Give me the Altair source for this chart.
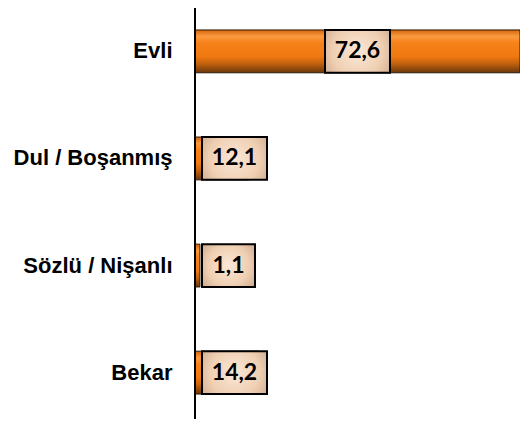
import altair as alt
import pandas as pd

categories = ["Evli", "Dul / Boşanmış", "Sözlü / Nişanlı", "Bekar"]
values = [72.6, 12.1, 1.1, 14.2]
labels = ["72,6", "12,1", "1,1", "14,2"]

PLOT_W = 325
X_MAX = 72.6
ppu = PLOT_W / X_MAX  # pixels per unit

rows = []
for c, v, lab in zip(categories, values, labels):
    box_px = 17 + 12 * len(lab)
    half = box_px / 2 / ppu
    if v * ppu / 2 > box_px / 2 + 8:
        center = v / 2
    else:
        center = (7 + box_px / 2) / ppu
    rows.append({"category": c, "value": v, "label": lab,
                 "box_l": center - half, "box_r": center + half, "lab_x": center})
df = pd.DataFrame(rows)

y_enc = alt.Y("category:N", sort=categories, title=None,
              scale=alt.Scale(paddingInner=0.6, paddingOuter=0.205),
              axis=alt.Axis(domain=False, ticks=False, grid=False, labelPadding=23,
                            labelFont="Liberation Sans", labelFontWeight="bold",
                            labelFontSize=22, labelColor="black", labelAlign="right"))
x_scale = alt.Scale(domain=[0, X_MAX], nice=False, zero=True)

bar_grad = alt.Gradient(
    gradient="linear", x1=0, x2=0, y1=0, y2=1,
    stops=[alt.GradientStop(offset=0.0, color="#d4640a"),
           alt.GradientStop(offset=0.15, color="#fa9a40"),
           alt.GradientStop(offset=0.3, color="#f7821a"),
           alt.GradientStop(offset=0.62, color="#f07810"),
           alt.GradientStop(offset=0.78, color="#c4620e"),
           alt.GradientStop(offset=1.0, color="#6a360a")])

box_grad = alt.Gradient(
    gradient="radial", x1=0.5, y1=0.5, x2=0.5, y2=0.5, r1=0, r2=0.7,
    stops=[alt.GradientStop(offset=0.0, color="#fbe7d6"),
           alt.GradientStop(offset=0.55, color="#efcfb2"),
           alt.GradientStop(offset=1.0, color="#c4a084")])

base = alt.Chart(df)

bars = base.mark_bar(fill=bar_grad, stroke="#2a1a0c", strokeWidth=1).encode(
    x=alt.X("value:Q", scale=x_scale, axis=None),
    y=y_enc,
)

boxes = base.mark_rect(fill=box_grad, stroke="black", strokeWidth=2).encode(
    x=alt.X("box_l:Q", scale=x_scale, axis=None),
    x2="box_r:Q",
    y=y_enc,
)

texts = base.mark_text(font="Lato", fontWeight="bold", fontSize=23,
                       color="black", baseline="middle", align="center").encode(
    x=alt.X("lab_x:Q", scale=x_scale, axis=None),
    y=y_enc,
    text="label:N",
)

axis_line = alt.Chart(pd.DataFrame({"a": [0]})).mark_rule(
    color="black", strokeWidth=2).encode(
    x=alt.value(0), y=alt.value(0), y2=alt.value(411))

chart = alt.layer(bars, boxes, texts, axis_line).properties(
    width=PLOT_W, height=408,
    background="white",
    autosize=alt.AutoSizeParams(type="none"),
    padding={"left": 187, "top": 0, "right": 0, "bottom": 3},
).configure_view(stroke=None)

chart.save("out.html", embed_options={"renderer": "svg", "actions": False})
